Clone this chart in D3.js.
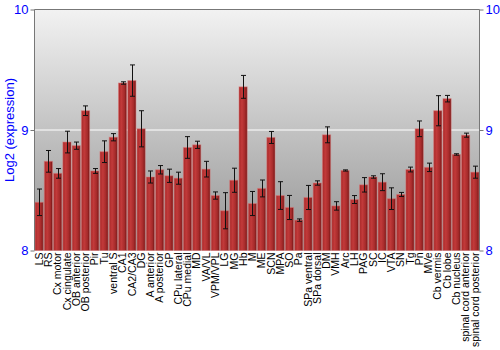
<!DOCTYPE html>
<html><head><meta charset="utf-8">
<script src="https://cdn.jsdelivr.net/npm/d3@7"></script>
<style>body{margin:0;background:#fff}svg{display:block}</style>
</head><body><svg id="c" width="500" height="350"></svg>
<script>
const categories = ["LS","RS","Cx motor","Cx cingulate","OB anterior","OB posterior","Pir","Tu","ventral S","CA1","CA2/CA3","DG","A anterior","A posterior","GP","CPu lateral","CPu medial","MD","VA/VL","VPM/VPL","LG","MG","Hb","M","ME","SCN","MPA","SO","Pa","SPa ventral","SPa dorsal","DM","VMH","Arc","LH","PAG","SC","IC","VTA","SN","Tg","Pn","MVe","Cb vermis","Cb lobe","Cb nucleus","spinal cord anterior","spinal cord posterior"];
const values = [8.40,8.74,8.64,8.90,8.87,9.16,8.66,8.82,8.94,9.39,9.41,9.01,8.61,8.67,8.62,8.60,8.855,8.877,8.675,8.456,8.33,8.583,9.358,8.39,8.515,8.938,8.456,8.357,8.252,8.44,8.56,8.96,8.37,8.664,8.423,8.545,8.61,8.567,8.43,8.465,8.672,9.01,8.69,9.16,9.26,8.797,8.957,8.65];
const errors = [0.11,0.09,0.04,0.09,0.03,0.04,0.02,0.09,0.03,0.01,0.13,0.15,0.05,0.035,0.055,0.05,0.09,0.03,0.065,0.03,0.15,0.10,0.095,0.10,0.07,0.05,0.115,0.10,0.01,0.10,0.018,0.066,0.035,0.005,0.033,0.06,0.01,0.07,0.09,0.017,0.02,0.065,0.035,0.125,0.027,0.006,0.017,0.05];
const yTicks = [8,9,10];

const svg = d3.select("#c");
const L = 34.5, R = 479.5, T = 9.5, B = 250.5;
const x = d3.scaleBand().domain(categories).range([L, R]).paddingInner(0.12).paddingOuter(0.06);
const y = d3.scaleLinear().domain([8, 10]).range([B, T]);

const defs = svg.append("defs");
const bg = defs.append("linearGradient").attr("id","bg").attr("x1",0).attr("y1",0).attr("x2",0).attr("y2",1);
bg.append("stop").attr("offset","0%").attr("stop-color","#f2f2f2");
bg.append("stop").attr("offset","100%").attr("stop-color","#939393");
const bar = defs.append("linearGradient").attr("id","bar").attr("x1",0).attr("y1",0).attr("x2",1).attr("y2",0);
bar.append("stop").attr("offset","0%").attr("stop-color","#a82828");
bar.append("stop").attr("offset","35%").attr("stop-color","#c23a3a");
bar.append("stop").attr("offset","75%").attr("stop-color","#a52a2a");
bar.append("stop").attr("offset","100%").attr("stop-color","#701414");

svg.append("rect").attr("x",L).attr("y",T).attr("width",R-L).attr("height",B-T).attr("fill","url(#bg)");
svg.append("line").attr("x1",L).attr("x2",R).attr("y1",y(9)).attr("y2",y(9)).attr("stroke","#fff").attr("stroke-width",1.2);

svg.append("g").selectAll("rect").data(categories).join("rect")
  .attr("x",d=>x(d)).attr("width",x.bandwidth())
  .attr("y",(d,i)=>y(values[i])).attr("height",(d,i)=>B-y(values[i]))
  .attr("fill","url(#bar)").attr("stroke","#d77").attr("stroke-opacity",0.5).attr("stroke-width",1);

const eg = svg.append("g").attr("stroke","#111").attr("stroke-width",1);
categories.forEach((c,i)=>{
  const cx = Math.round(x(c)+x.bandwidth()/2)+0.5;
  const y1 = y(values[i]+errors[i]), y2 = y(values[i]-errors[i]);
  eg.append("line").attr("x1",cx).attr("x2",cx).attr("y1",y1).attr("y2",y2);
  eg.append("line").attr("x1",cx-2.5).attr("x2",cx+2.5).attr("y1",y1).attr("y2",y1);
  eg.append("line").attr("x1",cx-2.5).attr("x2",cx+2.5).attr("y1",y2).attr("y2",y2);
});

svg.append("path").attr("d",`M${L},${B}V${T}H${R}V${B}`).attr("fill","none").attr("stroke","#777").attr("stroke-width",1);

const fmt = d3.format("d");
const la = svg.append("g").attr("transform",`translate(${L},0)`).call(d3.axisLeft(y).tickValues(yTicks).tickFormat(fmt).tickSize(4).tickPadding(2));
const ra = svg.append("g").attr("transform",`translate(${R},0)`).call(d3.axisRight(y).tickValues(yTicks).tickFormat(fmt).tickSize(4).tickPadding(2));
[la,ra].forEach(a=>{
  a.select(".domain").remove();
  a.selectAll(".tick line").attr("stroke","#777");
  a.selectAll("text").attr("fill","#0000ff").style("font-family","Liberation Sans, Arial, sans-serif").style("font-size","13px");
});

const xa = svg.append("g").attr("transform",`translate(0,${B})`).call(d3.axisBottom(x).tickSize(0).tickPadding(0));
xa.select(".domain").remove();
xa.selectAll("text").attr("fill","#000").style("font-family","Liberation Sans, Arial, sans-serif").style("font-size","10.5px")
  .attr("transform","rotate(-90)").attr("text-anchor","end").attr("x",-2).attr("y",0).attr("dy","0.35em");

svg.append("text").attr("transform",`translate(14,${(T+B)/2}) rotate(-90)`).attr("text-anchor","middle")
  .attr("fill","#0000ff").style("font-family","Liberation Sans, Arial, sans-serif").style("font-size","13px").text("Log2 (expression)");
</script></body></html>
